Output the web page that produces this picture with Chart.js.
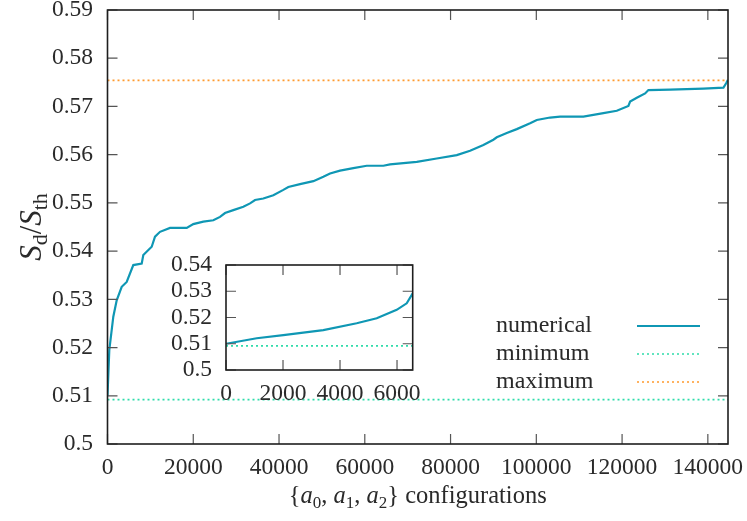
<!DOCTYPE html>
<html>
<head>
<meta charset="utf-8">
<script src="https://cdn.jsdelivr.net/npm/chart.js@4.4.0/dist/chart.umd.min.js"></script>
<style>
  html, body { margin: 0; padding: 0; background: #fff; }
  #wrap { position: relative; width: 747px; height: 521px; }
  #main { position: absolute; left: 0; top: 0; }
  #inset { position: absolute; left: 140px; top: 245px; }
</style>
</head>
<body>
<div id="wrap">
  <canvas id="main" width="747" height="521"></canvas>
  <canvas id="inset" width="290" height="170"></canvas>
</div>
<script>
// main curve: configurations sorted by S_d/S_th
const mainX = [0, 420, 1353, 2146, 3312, 4478, 6018, 7977, 8350, 10310, 11079, 12245, 14578,
  18473, 20013, 22345, 24678, 26240, 27406, 29343, 31675, 33238, 34404, 36340, 38673, 41005,
  42171, 44900, 48002, 50334, 51897, 54229, 57331, 60457, 64330, 65892, 72120, 76785, 81450,
  84552, 87654, 89986, 90780, 93112, 95445, 98547, 100110, 103212, 105545, 110980, 115645,
  118770, 121475, 121872, 123434, 125370, 126140, 131200, 138970, 143640, 144270, 144660];
const mainY = [0.5100, 0.5195, 0.5264, 0.5298, 0.5326, 0.5336, 0.5371, 0.5374, 0.5392, 0.5409,
  0.5430, 0.5440, 0.5448, 0.5448, 0.5456, 0.5461, 0.5464, 0.5471, 0.5479, 0.5485, 0.5492,
  0.5499, 0.5506, 0.5509, 0.5516, 0.5527, 0.5533, 0.5539, 0.5545, 0.5554, 0.5561, 0.5567,
  0.5572, 0.5577, 0.5577, 0.5580, 0.5585, 0.5592, 0.5599, 0.5608, 0.5620, 0.5631, 0.5636,
  0.5645, 0.5653, 0.5665, 0.5672, 0.5677, 0.5679, 0.5679, 0.5686, 0.5691, 0.5701, 0.5710,
  0.5718, 0.5727, 0.5734, 0.5735, 0.5737, 0.5739, 0.5748, 0.5755];

// inset: first configurations
const insetX = [0, 1077, 2011, 3414, 4586, 5288, 5989, 6340, 6550];
const insetY = [0.5100, 0.5121, 0.5133, 0.5152, 0.5178, 0.5197, 0.5229, 0.5254, 0.5292];

const minValue = 0.5092;
const maxValue = 0.5754;

const mainXRange = [0, 144700];
const mainYRange = [0.5, 0.59];
const insetXRange = [0, 6550];
const insetYRange = [0.5, 0.54];

const mainXTicks = [0, 20000, 40000, 60000, 80000, 100000, 120000, 140000];
const mainYTicks = [0.5, 0.51, 0.52, 0.53, 0.54, 0.55, 0.56, 0.57, 0.58, 0.59];
const insetXTicks = [0, 2000, 4000, 6000];
const insetYTicks = [0.5, 0.51, 0.52, 0.53, 0.54];

const seriesNames = ['numerical', 'minimum', 'maximum'];

const FONT = '"Liberation Serif", "Times New Roman", serif';
const TEXT = '#2a2a2a';
const C_NUM = '#0f97b4';
const C_MIN = '#2fdcaa';
const C_MAX = '#ff9a2e';

function pts(xs, ys) {
  return xs.map((x, i) => ({ x: x, y: ys[i] }));
}
function hline(v, range) {
  return [{ x: range[0], y: v }, { x: range[1], y: v }];
}
function fmt(v) {
  return String(+v.toFixed(2));
}

// gnuplot-style frame with inward ticks on all sides
const frameTicks = {
  id: 'frameTicks',
  afterDraw(chart) {
    const ctx = chart.ctx;
    const a = chart.chartArea;
    const xs = chart.scales.x, ys = chart.scales.y;
    const len = 10;
    ctx.save();
    ctx.strokeStyle = '#555';
    ctx.lineWidth = 1.2;
    ctx.beginPath();
    xs.ticks.forEach(t => {
      const px = xs.getPixelForValue(t.value);
      ctx.moveTo(px, a.bottom); ctx.lineTo(px, a.bottom - len);
      ctx.moveTo(px, a.top); ctx.lineTo(px, a.top + len);
    });
    ys.ticks.forEach(t => {
      const py = ys.getPixelForValue(t.value);
      ctx.moveTo(a.left, py); ctx.lineTo(a.left + len, py);
      ctx.moveTo(a.right, py); ctx.lineTo(a.right - len, py);
    });
    ctx.stroke();
    ctx.strokeStyle = '#1e1e1e';
    ctx.lineWidth = 1.6;
    ctx.strokeRect(a.left, a.top, a.right - a.left, a.bottom - a.top);
    ctx.restore();
  }
};

function partFont(p, size) {
  return (p.i ? 'italic ' : '') + (p.sub ? Math.round(size * 0.7) : size) + 'px ' + FONT;
}

// text with italic parts and subscripts, centred on x
function drawRich(ctx, parts, x, y, size) {
  let w = 0;
  parts.forEach(p => {
    ctx.font = partFont(p, size);
    p.w = ctx.measureText(p.t).width;
    w += p.w;
  });
  let cx = x - w / 2;
  ctx.textAlign = 'left';
  ctx.textBaseline = 'alphabetic';
  parts.forEach(p => {
    ctx.font = partFont(p, size);
    ctx.fillText(p.t, cx, y + (p.sub ? size * 0.2 : 0));
    cx += p.w;
  });
}

const titles = {
  id: 'titles',
  afterDraw(chart) {
    const ctx = chart.ctx;
    const a = chart.chartArea;
    ctx.save();
    ctx.fillStyle = TEXT;
    drawRich(ctx, [
      { t: '{' }, { t: 'a', i: true }, { t: '0', sub: true }, { t: ', ' },
      { t: 'a', i: true }, { t: '1', sub: true }, { t: ', ' },
      { t: 'a', i: true }, { t: '2', sub: true }, { t: '}' }, { t: ' configurations' }
    ], (a.left + a.right) / 2, 503, 24.5);
    ctx.translate(41, (a.top + a.bottom) / 2);
    ctx.rotate(-Math.PI / 2);
    drawRich(ctx, [
      { t: 'S', i: true }, { t: 'd', sub: true }, { t: '/' },
      { t: 'S', i: true }, { t: 'th', sub: true }
    ], 0, 0, 31);
    ctx.restore();
  }
};

// legend: text left-aligned, sample on the right
const keyBox = {
  id: 'keyBox',
  afterDraw(chart) {
    const ctx = chart.ctx;
    const rows = [326, 354, 382];
    ctx.save();
    chart.data.datasets.forEach((ds, i) => {
      const y = rows[i];
      ctx.fillStyle = TEXT;
      ctx.font = '24px ' + FONT;
      ctx.textAlign = 'left';
      ctx.textBaseline = 'middle';
      ctx.fillText(ds.label, 496, y);
      ctx.strokeStyle = ds.borderColor;
      ctx.lineWidth = ds.borderWidth;
      ctx.setLineDash(ds.borderDash || []);
      ctx.beginPath();
      ctx.moveTo(637, y);
      ctx.lineTo(700, y);
      ctx.stroke();
    });
    ctx.restore();
  }
};

function axisOptions(range, ticks, fitSize, isY, pad) {
  return {
    type: 'linear',
    min: range[0],
    max: range[1],
    afterBuildTicks: s => { s.ticks = ticks.map(v => ({ value: v })); },
    afterFit: s => {
      if (isY) { s.width = fitSize; s.paddingTop = 0; s.paddingBottom = 0; }
      else { s.height = fitSize; s.paddingLeft = 0; s.paddingRight = 0; }
    },
    grid: { display: false, drawTicks: false },
    border: { display: false },
    ticks: {
      color: TEXT,
      font: { family: FONT, size: 23.5 },
      padding: pad,
      autoSkip: false,
      maxRotation: 0,
      callback: v => isY ? fmt(v) : String(v)
    }
  };
}

const lineStyle = {
  numerical: { borderColor: C_NUM, borderWidth: 2.2, borderDash: [] },
  minimum: { borderColor: C_MIN, borderWidth: 1.6, borderDash: [2, 3] },
  maximum: { borderColor: C_MAX, borderWidth: 1.6, borderDash: [2, 3] }
};

function makeDatasets(curve, xr) {
  const data = [curve, hline(minValue, xr), hline(maxValue, xr)];
  return seriesNames.map((name, i) => Object.assign({
    label: name,
    data: data[i],
    showLine: true,
    pointRadius: 0,
    tension: 0,
    fill: false
  }, lineStyle[name]));
}

new Chart(document.getElementById('main'), {
  type: 'scatter',
  data: { datasets: makeDatasets(pts(mainX, mainY), mainXRange) },
  options: {
    responsive: false,
    animation: false,
    layout: { padding: { left: 0, top: 10, right: 19, bottom: 0 } },
    plugins: { legend: { display: false }, tooltip: { enabled: false } },
    scales: {
      x: axisOptions(mainXRange, mainXTicks, 77, false, 10),
      y: axisOptions(mainYRange, mainYTicks, 107.5, true, 14.5)
    }
  },
  plugins: [frameTicks, titles, keyBox]
});

// inset keeps only the curve and the minimum line in range
const insetSets = makeDatasets(pts(insetX, insetY), insetXRange).slice(0, 2);

new Chart(document.getElementById('inset'), {
  type: 'scatter',
  data: { datasets: insetSets },
  options: {
    responsive: false,
    animation: false,
    layout: { padding: { left: 0, top: 20, right: 17.3, bottom: 0 } },
    plugins: { legend: { display: false }, tooltip: { enabled: false } },
    scales: {
      x: axisOptions(insetXRange, insetXTicks, 45, false, 10),
      y: axisOptions(insetYRange, insetYTicks, 86, true, 14)
    }
  },
  plugins: [frameTicks]
});
</script>
</body>
</html>
